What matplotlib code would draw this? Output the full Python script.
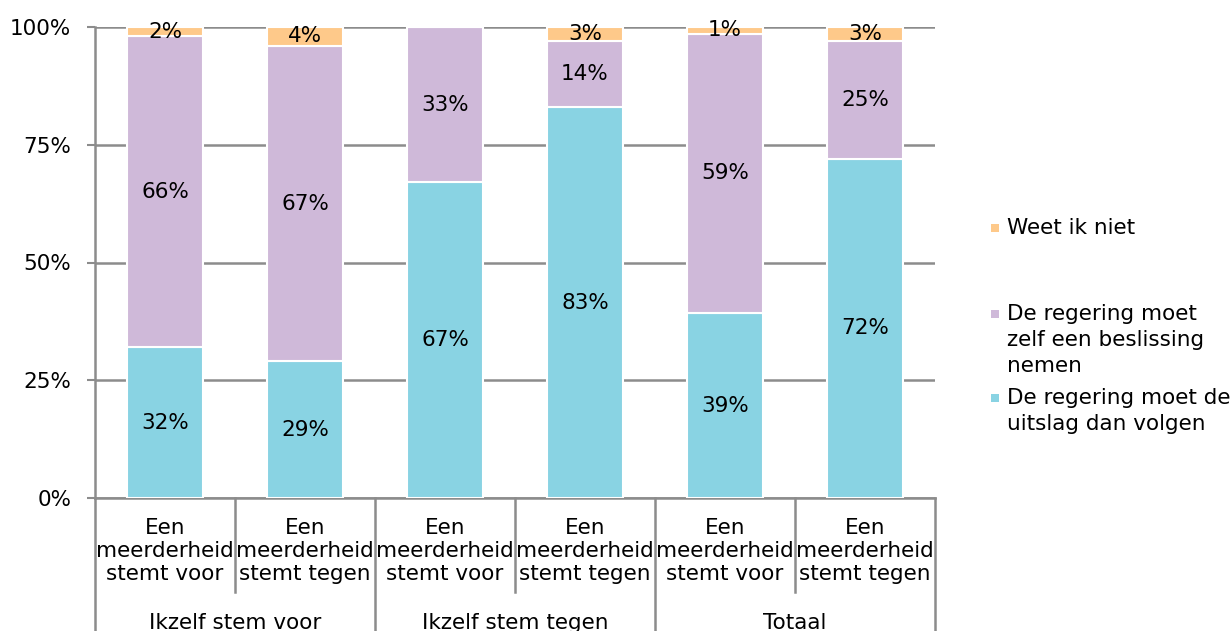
import matplotlib.pyplot as plt
from matplotlib.patches import Rectangle
from matplotlib.ticker import PercentFormatter

plt.rcParams['font.family'] = ['DejaVu Sans']

# data (percentages)
sub_labels = ['Een\nmeerderheid\nstemt voor', 'Een\nmeerderheid\nstemt tegen'] * 3
groups = ['Ikzelf stem voor', 'Ikzelf stem tegen', 'Totaal']
volgen = [32, 29, 67, 83, 39.2, 72]
zelf = [66, 67, 33, 14, 59.4, 25]
weet_niet = [2, 4, 0, 3, 1.4, 3]

c_blue = '#89d3e3'
c_purple = '#cfb9d9'
c_orange = '#fec98a'
c_grid = '#8c8c8c'
fs = 15.5

fig = plt.figure(figsize=(12.32, 6.31), dpi=100)
ax = fig.add_axes([95 / 1232, 133 / 631, 840 / 1232, 471 / 631])

x = range(len(volgen))
w = 0.54
b1 = ax.bar(x, volgen, w, color=c_blue, edgecolor='white', linewidth=1.5, zorder=3)
bottom2 = volgen
b2 = ax.bar(x, zelf, w, bottom=bottom2, color=c_purple, edgecolor='white', linewidth=1.5, zorder=3)
bottom3 = [a + b for a, b in zip(volgen, zelf)]
b3 = ax.bar(x, weet_niet, w, bottom=bottom3, color=c_orange, edgecolor='white', linewidth=1.5, zorder=3)

for bars, vals, bots in [(b1, volgen, [0] * 6), (b2, zelf, bottom2), (b3, weet_niet, bottom3)]:
    for xi, v, b in zip(x, vals, bots):
        if v <= 0:
            continue
        ax.text(xi, b + v / 2, f'{round(v)}%', ha='center', va='center', fontsize=fs, zorder=5)

ax.set_xlim(-0.5, 5.5)
ax.set_ylim(0, 100)
ax.set_yticks([0, 25, 50, 75, 100])
ax.yaxis.set_major_formatter(PercentFormatter(decimals=0))
ax.tick_params(axis='y', labelsize=fs, length=6, width=1.5, color=c_grid, pad=11)
ax.set_xticks([])
ax.yaxis.grid(True, color=c_grid, linewidth=1.8, zorder=0)
for s in ['top', 'right']:
    ax.spines[s].set_visible(False)
for s in ['left', 'bottom']:
    ax.spines[s].set_color(c_grid)
    ax.spines[s].set_linewidth(1.8)

# multi-level category axis
trans = ax.get_xaxis_transform()
for i in range(7):
    xs = i - 0.5
    low = -0.3 if i % 2 == 0 else -0.2
    ax.plot([xs, xs], [0, low], color=c_grid, linewidth=1.8, transform=trans, clip_on=False)
for xi, lab in zip(x, sub_labels):
    ax.text(xi, -0.112, lab, ha='center', va='center', fontsize=fs, linespacing=1.18,
            transform=trans)
for gi, g in enumerate(groups):
    ax.text(2 * gi + 0.5, -0.265, g, ha='center', va='center', fontsize=fs, transform=trans)

# legend
legend_items = [
    (c_orange, 'Weet ik niet', 228),
    (c_purple, 'De regering moet\nzelf een beslissing\nnemen', 314),
    (c_blue, 'De regering moet de\nuitslag dan volgen', 398),
]
for col, lab, ypx in legend_items:
    fig.patches.append(Rectangle((991 / 1232, (631 - ypx - 4) / 631), 8 / 1232, 8 / 631,
                                 transform=fig.transFigure, facecolor=col, edgecolor='none'))
    fig.text(1007 / 1232, (631 - ypx + 10) / 631, lab, ha='left', va='top', fontsize=fs,
             linespacing=1.38)

fig.savefig('out.png', dpi=100)
